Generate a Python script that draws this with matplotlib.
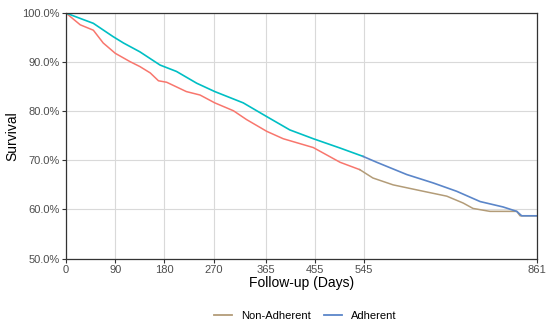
import matplotlib
matplotlib.use("Agg")
import matplotlib.pyplot as plt
from matplotlib.lines import Line2D
from matplotlib.ticker import FuncFormatter

plt.rcParams['font.family'] = ['Liberation Sans', 'DejaVu Sans']

# survival curves (day, percent)
non_days = [0, 26, 50, 68, 90, 117, 135, 154, 169, 184, 220, 245, 272, 306, 330,
            367, 397, 452, 501, 537, 561, 598, 653, 696, 726, 744, 775, 824, 830, 861]
non_surv = [100, 97.6, 96.5, 93.9, 91.8, 90.1, 89.1, 87.8, 86.2, 85.9, 84.0, 83.3, 81.7, 80.1, 78.3,
            75.9, 74.4, 72.6, 69.6, 68.1, 66.4, 65.0, 63.7, 62.7, 61.3, 60.2, 59.6, 59.6, 58.7, 58.7]

adh_days = [0, 26, 50, 86, 105, 135, 172, 202, 239, 272, 324, 367, 409, 452, 501,
            543, 568, 623, 671, 714, 757, 799, 824, 833, 861]
adh_surv = [100, 98.9, 97.9, 95.2, 93.9, 92.1, 89.4, 88.1, 85.7, 84.0, 81.7, 78.9, 76.2, 74.4, 72.5,
            70.8, 69.6, 67.1, 65.4, 63.7, 61.6, 60.5, 59.6, 58.7, 58.7]

x_ticks = [0, 90, 180, 270, 365, 455, 545, 861]
y_ticks = [50, 60, 70, 80, 90, 100]
split_day = 545


def split_curve(days, surv, cut):
  a_d, a_s, b_d, b_s = [], [], [], []
  for d, s in zip(days, surv):
    if d <= cut:
      a_d.append(d)
      a_s.append(s)
    else:
      b_d.append(d)
      b_s.append(s)
  # join the two pieces
  b_d.insert(0, a_d[-1])
  b_s.insert(0, a_s[-1])
  return a_d, a_s, b_d, b_s


fig = plt.figure(figsize=(5.5, 3.34), dpi=100)
ax = fig.add_axes([0.12, 0.226, 0.8564, 0.735])

na_d, na_s, nb_d, nb_s = split_curve(non_days, non_surv, split_day)
aa_d, aa_s, ab_d, ab_s = split_curve(adh_days, adh_surv, split_day)

ax.plot(na_d, na_s, color='#F8766D', lw=1.1)
ax.plot(nb_d, nb_s, color='#B39C78', lw=1.1)
ax.plot(aa_d, aa_s, color='#00BFC4', lw=1.2)
ax.plot(ab_d, ab_s, color='#5B86C9', lw=1.2)

ax.set_xlim(0, 861)
ax.set_ylim(50, 100)
ax.set_xticks(x_ticks)
ax.set_yticks(y_ticks)
ax.yaxis.set_major_formatter(FuncFormatter(lambda v, p: '%.1f%%' % v))
ax.grid(True, color='#D9D9D9', lw=0.8)
ax.set_axisbelow(True)

for sp in ax.spines.values():
  sp.set_color('#333333')
  sp.set_linewidth(0.9)

ax.tick_params(axis='both', colors='#333333', length=3, width=0.8,
               labelsize=8, labelcolor='#4D4D4D', pad=1.5)

ax.set_xlabel('Follow-up (Days)', fontsize=10, labelpad=1)
ax.set_ylabel('Survival', fontsize=10, labelpad=2)

handles = [Line2D([], [], color='#B39C78', lw=1.3),
           Line2D([], [], color='#5B86C9', lw=1.3)]
fig.legend(handles, ['Non-Adherent', 'Adherent'], loc='center',
           bbox_to_anchor=(0.555, 0.055), ncol=2, frameon=False,
           fontsize=8, handlelength=1.6, columnspacing=1.2, handletextpad=0.8)

fig.savefig('out.png', dpi=100)
